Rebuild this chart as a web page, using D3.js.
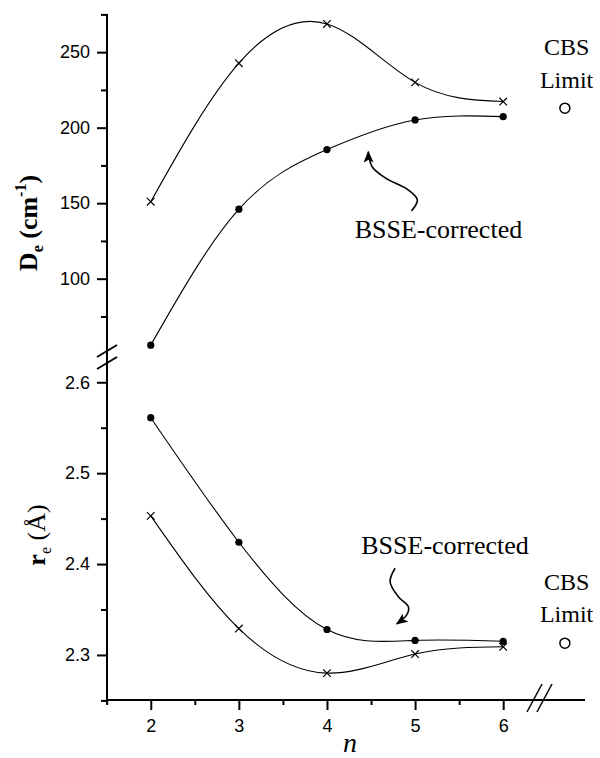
<!DOCTYPE html>
<html><head><meta charset="utf-8">
<script src="https://cdn.jsdelivr.net/npm/d3@7"></script>
<style>
html,body{margin:0;padding:0;background:#fff;}svg{display:block;}
.sans{font-family:"Liberation Sans", Arial, Helvetica, sans-serif;}
.serif{font-family:"Liberation Serif", "Times New Roman", Times, "DejaVu Serif", serif;}
</style>
</head><body>
<svg id="chart" width="600" height="758"></svg>
<script>
// ---- data ----
const nValues = [2, 3, 4, 5, 6];
const deUncorrected = [151, 242.7, 268.7, 230, 217.3];
const deCorrected = [56, 146, 185.5, 205.1, 207.3];
const reUncorrected = [2.453, 2.329, 2.280, 2.301, 2.309];
const reCorrected = [2.561, 2.424, 2.328, 2.316, 2.315];
const cbsN = [6.7];
const cbsDe = [212.9];
const cbsRe = [2.313];
const xTicks = [2, 3, 4, 5, 6];
const xMinorTicks = [1.5, 2.5, 3.5, 4.5, 5.5];
const deTicks = [100, 150, 200, 250];
const deMinorTicks = [75, 125, 175, 225, 275];
const reTicks = [2.3, 2.4, 2.5, 2.6];
const reMinorTicks = [2.25, 2.35, 2.45, 2.55];
// annotation arrows (data coordinates)
const deArrow = [[4.958,144.8],[5.026,152.1],[4.924,158.7],[4.662,166.7],[4.514,174.0],[4.475,180.5],[4.469,184.1]];
const reArrow = [[4.773,2.3954],[4.716,2.3806],[4.810,2.3641],[4.924,2.3531],[4.905,2.3440],[4.791,2.3341]];

const svg = d3.select("#chart");
const x = d3.scaleLinear().domain([1.5, 6.9]).range([106.7, 582.5]);
const yTop = d3.scaleLinear().domain([50, 275]).range([354.2, 14.4]);
const yBot = d3.scaleLinear().domain([2.25, 2.63]).range([700.4, 355]);
const axisX = 107;

// y axis line (with break)
svg.append("line").attr("x1", axisX).attr("x2", axisX).attr("y1", 14).attr("y2", 704)
  .attr("stroke", "#000").attr("stroke-width", 2);
[351, 363].forEach(cy => {
  svg.append("line").attr("x1", axisX - 10).attr("y1", cy + 6).attr("x2", axisX + 10).attr("y2", cy - 6)
    .attr("stroke", "#000").attr("stroke-width", 2);
});

// x axis
svg.append("line").attr("x1", axisX - 1).attr("x2", 585).attr("y1", 700).attr("y2", 700)
  .attr("stroke", "#000").attr("stroke-width", 2);
const gx = svg.append("g").attr("transform", "translate(0,700)");
gx.call(d3.axisBottom(x).tickValues(xTicks).tickSize(10).tickFormat(d3.format("d")));
gx.select(".domain").remove();
gx.selectAll(".tick line").attr("stroke-width", 2);
gx.selectAll(".tick text").attr("class", "sans").attr("font-family", null).attr("font-size", 18).attr("dy", 0).attr("y", 31.5);
const gxm = svg.append("g").attr("transform", "translate(0,700)");
gxm.call(d3.axisBottom(x).tickValues(xMinorTicks).tickSize(5).tickFormat(""));
gxm.select(".domain").remove();
gxm.selectAll(".tick line").attr("stroke-width", 2);
[0, 10].forEach(off => {
  svg.append("line").attr("x1", 527 + off).attr("y1", 712).attr("x2", 542 + off).attr("y2", 684)
    .attr("stroke", "#000").attr("stroke-width", 1.5);
});

function yAxis(scale, major, minor, fmt) {
  const g = svg.append("g").attr("transform", `translate(${axisX},0)`);
  g.call(d3.axisLeft(scale).tickValues(major).tickSize(10).tickPadding(7).tickFormat(fmt));
  g.attr("font-family", null);
  g.select(".domain").remove();
  g.selectAll(".tick line").attr("stroke-width", 2);
  g.selectAll(".tick text").attr("class", "sans").attr("font-size", 18);
  const gm = svg.append("g").attr("transform", `translate(${axisX},0)`);
  gm.call(d3.axisLeft(scale).tickValues(minor).tickSize(6).tickFormat(""));
  gm.select(".domain").remove();
  gm.selectAll(".tick line").attr("stroke-width", 2);
}
gx.attr("font-family", null);
yAxis(yTop, deTicks, deMinorTicks, d3.format("d"));
yAxis(yBot, reTicks, reMinorTicks, d3.format(".1f"));

// axis titles
const t1 = svg.append("text").attr("class", "serif").attr("transform", "translate(37,223) rotate(-90)")
  .attr("text-anchor", "middle").attr("font-weight", "bold").attr("font-size", 26);
t1.append("tspan").text("D");
t1.append("tspan").attr("font-size", 16).attr("dy", 6).text("e");
t1.append("tspan").attr("dy", -6).text(" (cm");
t1.append("tspan").attr("font-size", 16).attr("dy", -11).text("-1");
t1.append("tspan").attr("dy", 11).text(")");

const t2 = svg.append("text").attr("class", "serif").attr("transform", "translate(45,535) rotate(-90)")
  .attr("text-anchor", "middle").attr("font-size", 26);
t2.append("tspan").attr("font-weight", "bold").text("r");
t2.append("tspan").attr("font-size", 16).attr("dy", 6).text("e");
t2.append("tspan").attr("dy", -6).text(" (Å)");

svg.append("text").attr("class", "serif").attr("x", 350).attr("y", 752).attr("text-anchor", "middle")
  .attr("font-style", "italic").attr("font-size", 28).text("n");

// curves
function series(ys, scale, marker) {
  const pts = nValues.map((n, i) => [n, ys[i]]);
  svg.append("path").datum(pts)
    .attr("d", d3.line().x(d => x(d[0])).y(d => scale(d[1])).curve(d3.curveNatural))
    .attr("fill", "none").attr("stroke", "#000").attr("stroke-width", 1.1);
  if (marker === "dot") {
    svg.append("g").selectAll("circle").data(pts).join("circle")
      .attr("cx", d => x(d[0])).attr("cy", d => scale(d[1])).attr("r", 3.6).attr("fill", "#000");
  } else {
    svg.append("g").selectAll("path").data(pts).join("path")
      .attr("d", d => { const cx = x(d[0]), cy = scale(d[1]), s = 3.8;
        return `M${cx-s},${cy-s}L${cx+s},${cy+s}M${cx-s},${cy+s}L${cx+s},${cy-s}`; })
      .attr("stroke", "#000").attr("stroke-width", 1.2).attr("fill", "none");
  }
}
series(deUncorrected, yTop, "cross");
series(deCorrected, yTop, "dot");
series(reUncorrected, yBot, "cross");
series(reCorrected, yBot, "dot");

// CBS limit points
svg.append("circle").attr("cx", x(cbsN[0])).attr("cy", yTop(cbsDe[0])).attr("r", 5)
  .attr("fill", "none").attr("stroke", "#000").attr("stroke-width", 1.5);
svg.append("circle").attr("cx", x(cbsN[0])).attr("cy", yBot(cbsRe[0])).attr("r", 5)
  .attr("fill", "none").attr("stroke", "#000").attr("stroke-width", 1.5);

function label(n, v, scale, txt, size) {
  svg.append("text").attr("class", "serif").attr("x", x(n)).attr("y", scale(v)).attr("text-anchor", "middle")
    .attr("font-size", size).text(txt);
}
label(6.72, 248.1, yTop, "CBS", 24);
label(6.72, 226.1, yTop, "Limit", 24);
label(6.72, 2.3715, yBot, "CBS", 24);
label(6.72, 2.3366, yBot, "Limit", 24);
label(5.265, 126.8, yTop, "BSSE-corrected", 26);
label(5.34, 2.411, yBot, "BSSE-corrected", 26);

// arrows
const defs = svg.append("defs");
defs.append("marker").attr("id", "ah").attr("viewBox", "0 0 12 10").attr("refX", 11).attr("refY", 5)
  .attr("markerWidth", 12).attr("markerHeight", 10).attr("markerUnits", "userSpaceOnUse").attr("orient", "auto")
  .append("path").attr("d", "M0,0L12,5L0,10L3,5Z").attr("fill", "#000");
svg.append("path").datum(deArrow)
  .attr("d", d3.line().x(d => x(d[0])).y(d => yTop(d[1])).curve(d3.curveCatmullRom))
  .attr("fill", "none").attr("stroke", "#000").attr("stroke-width", 1.6).attr("marker-end", "url(#ah)");
svg.append("path").datum(reArrow)
  .attr("d", d3.line().x(d => x(d[0])).y(d => yBot(d[1])).curve(d3.curveCatmullRom))
  .attr("fill", "none").attr("stroke", "#000").attr("stroke-width", 1.6).attr("marker-end", "url(#ah)");
</script>
</body></html>
